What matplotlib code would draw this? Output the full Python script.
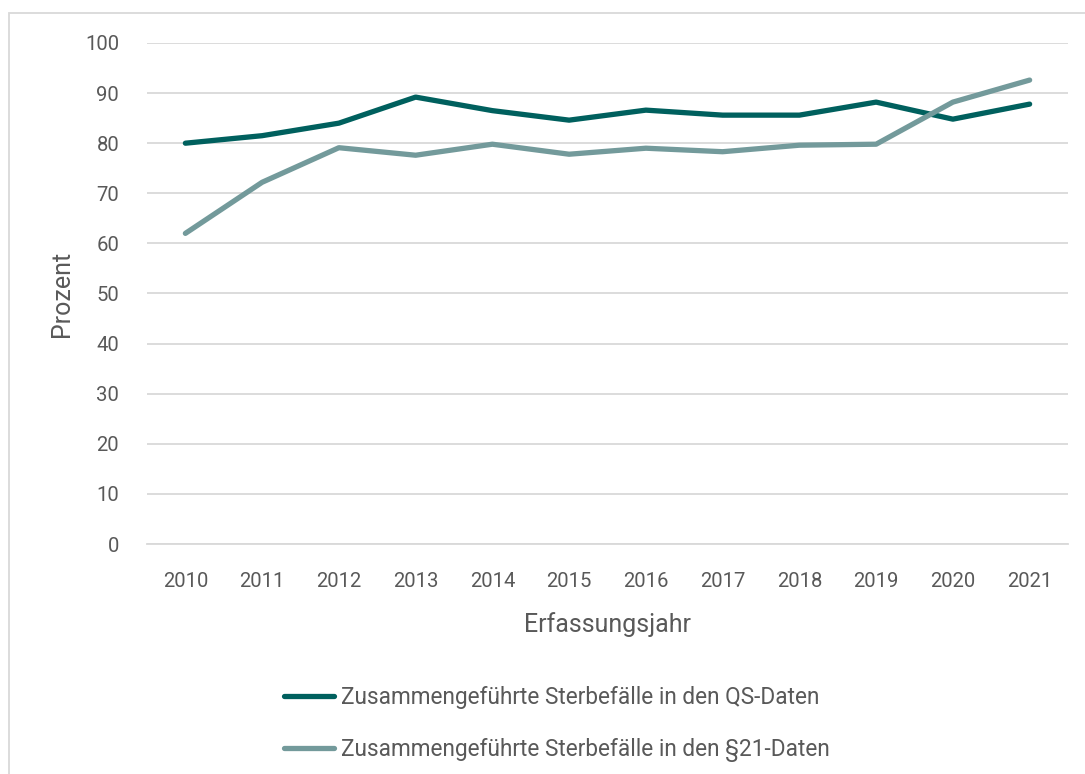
import matplotlib
matplotlib.use("Agg")
import matplotlib.pyplot as plt
from matplotlib.patches import Rectangle

years = ["2010", "2011", "2012", "2013", "2014", "2015",
         "2016", "2017", "2018", "2019", "2020", "2021"]
qs_daten = [80.0, 81.5, 84.0, 89.2, 86.5, 84.6, 86.6, 85.6, 85.6, 88.2, 84.8, 87.8]
p21_daten = [62.0, 72.2, 79.1, 77.6, 79.8, 77.8, 79.0, 78.3, 79.6, 79.8, 88.2, 92.6]
labels = ["Zusammengeführte Sterbefälle in den QS-Daten",
          "Zusammengeführte Sterbefälle in den §21-Daten"]

DARK = "#00605E"
LIGHT = "#739A9B"
TXT = "#595959"
GRID = "#D9D9D9"

plt.rcParams["font.family"] = ["Roboto", "DejaVu Sans"]

fig = plt.figure(figsize=(10.85, 7.74), dpi=100)
# light frame around the chart area (cut off at right/bottom)
fig.patches.append(Rectangle((9 / 1085, -0.1), 1.2, 1 - 13 / 774 + 0.1,
                             transform=fig.transFigure, fill=False,
                             edgecolor="#D9D9D9", lw=1.3))

ax = fig.add_axes([147 / 1085, 1 - 544 / 774, 921 / 1085, 501 / 774])
x = range(len(years))
ax.plot(x, qs_daten, color=DARK, lw=3.8, solid_capstyle="round",
        solid_joinstyle="round", label=labels[0], zorder=3)
ax.plot(x, p21_daten, color=LIGHT, lw=3.8, solid_capstyle="round",
        solid_joinstyle="round", label=labels[1], zorder=3)

ax.set_xlim(-0.5, 11.5)
ax.set_ylim(0, 100)
ax.set_yticks(range(0, 101, 10))
ax.set_xticks(list(x))
ax.set_xticklabels(years)
ax.yaxis.grid(True, color=GRID, lw=1.3)
ax.set_axisbelow(True)
for s in ("top", "right", "left"):
    ax.spines[s].set_visible(False)
ax.spines["bottom"].set_color(GRID)
ax.spines["bottom"].set_linewidth(1.3)
ax.tick_params(length=0, labelsize=14.6, labelcolor=TXT)
ax.tick_params(axis="y", pad=20)
ax.tick_params(axis="x", pad=20)

ax.set_xlabel("Erfassungsjahr", fontsize=18, color=TXT, labelpad=15)
ax.set_ylabel("Prozent", fontsize=18, color=TXT, labelpad=8)

leg = fig.legend(loc="upper left", bbox_to_anchor=(264 / 1085, 1 - 666 / 774),
                 frameon=False, fontsize=16.3, handlelength=2.2, handletextpad=0.3,
                 labelspacing=1.25, labelcolor=TXT)

fig.savefig("out.png", dpi=100)
